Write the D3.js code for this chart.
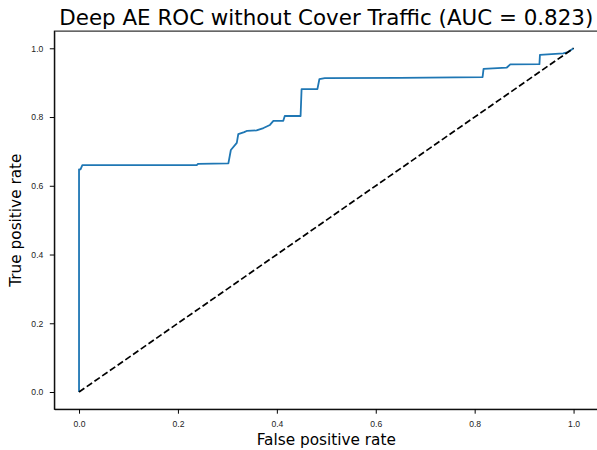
<!DOCTYPE html>
<html lang="en">
  <head>
    <meta charset="utf-8" />
    <title>Deep AE ROC without Cover Traffic</title>
    <script type="text/javascript" src="https://d3js.org/d3.v7.min.js"></script>
    <style>
      body {
        margin: 0;
        background: white;
      }
      svg {
        font-family: "DejaVu Sans", sans-serif;
      }
      .axis path {
        stroke: black;
        stroke-width: 1px;
      }
      .axis line {
        stroke: black;
        stroke-width: 1px;
      }
      .axis text {
        font-size: 8.6px;
        fill: #222;
      }
      .frame {
        fill: none;
        stroke: black;
        stroke-width: 1px;
      }
      path.roc {
        fill: none;
        stroke: #1f77b4;
        stroke-width: 1.8px;
        stroke-linejoin: round;
      }
      path.chance {
        fill: none;
        stroke: black;
        stroke-width: 1.7px;
        stroke-dasharray: 6.5, 2.9;
      }
    </style>
  </head>

  <body>
    <script>
      // ROC curve
      let fpr = [0, 0, 0.003, 0.0067, 0.238, 0.241, 0.302, 0.307, 0.319, 0.322, 0.334, 0.34, 0.359, 0.373, 0.386, 0.393, 0.413, 0.416, 0.448, 0.45, 0.482, 0.486, 0.497, 0.649, 0.816, 0.818, 0.865, 0.872, 0.931, 0.932, 0.979, 0.989, 1.0];
      let tpr = [0, 0.648, 0.648, 0.66, 0.66, 0.664, 0.665, 0.704, 0.725, 0.75, 0.756, 0.76, 0.761, 0.768, 0.777, 0.789, 0.789, 0.803, 0.803, 0.881, 0.881, 0.91, 0.913, 0.914, 0.916, 0.94, 0.944, 0.953, 0.954, 0.981, 0.985, 0.989, 1.0];
      let chanceX = [0, 1];
      let chanceY = [0, 1];
      let ticks = [0, 0.2, 0.4, 0.6, 0.8, 1.0];

      let titleText = "Deep AE ROC without Cover Traffic (AUC = 0.823)";
      let xLabel = "False positive rate";
      let yLabel = "True positive rate";

      let w = 597;
      let h = 450;
      let margin = { top: 31.1, right: -1.3, bottom: 40.8, left: 54.3 };

      let svg = d3
        .select("body")
        .append("svg")
        .attr("width", w)
        .attr("height", h);

      let x_scale = d3
        .scaleLinear()
        .domain([-0.05, 1.05])
        .range([margin.left, w - margin.right]);
      let y_scale = d3
        .scaleLinear()
        .domain([-0.05, 1.05])
        .range([h - margin.bottom, margin.top]);

      let line = d3
        .line()
        .x((d) => x_scale(d[0]))
        .y((d) => y_scale(d[1]));

      svg
        .append("path")
        .attr("class", "roc")
        .attr("d", line(d3.zip(fpr, tpr)));

      svg
        .append("path")
        .attr("class", "chance")
        .attr("d", line(d3.zip(chanceX, chanceY)));

      let fmt = d3.format(".1f");

      svg
        .append("g")
        .attr("class", "x axis")
        .attr("transform", `translate(0,${h - margin.bottom})`)
        .call(d3.axisBottom(x_scale).tickValues(ticks).tickFormat(fmt).tickSize(4.5).tickPadding(7).tickSizeOuter(0));

      svg
        .append("g")
        .attr("class", "y axis")
        .attr("transform", `translate(${margin.left},0)`)
        .call(d3.axisLeft(y_scale).tickValues(ticks).tickFormat(fmt).tickSize(4.5).tickPadding(6.5).tickSizeOuter(0));

      // top and right spines
      svg
        .append("rect")
        .attr("class", "frame")
        .attr("x", x_scale(-0.05))
        .attr("y", y_scale(1.05))
        .attr("width", x_scale(1.05) - x_scale(-0.05))
        .attr("height", y_scale(-0.05) - y_scale(1.05));

      svg
        .append("text")
        .attr("x", (x_scale(-0.05) + x_scale(1.05)) / 2)
        .attr("y", 25)
        .attr("text-anchor", "middle")
        .style("font-size", "21.4px")
        .text(titleText);

      svg
        .append("text")
        .attr("x", (x_scale(-0.05) + x_scale(1.05)) / 2)
        .attr("y", 444.5)
        .attr("text-anchor", "middle")
        .style("font-size", "15.3px")
        .text(xLabel);

      svg
        .append("text")
        .attr("transform", `translate(21,${(y_scale(-0.05) + y_scale(1.05)) / 2}) rotate(-90)`)
        .attr("text-anchor", "middle")
        .style("font-size", "15.3px")
        .text(yLabel);
    </script>
  </body>
</html>
